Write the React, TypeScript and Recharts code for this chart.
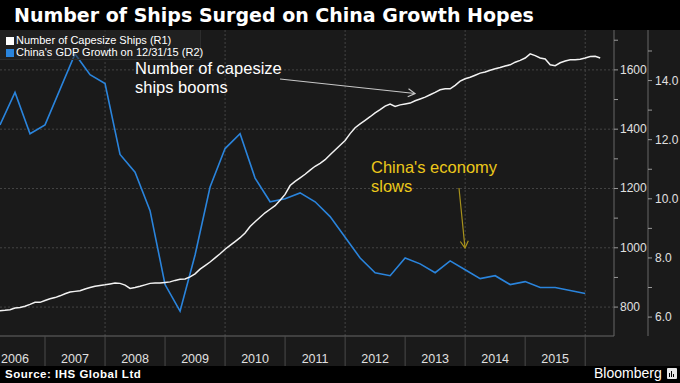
import { CartesianGrid, ComposedChart, Line, XAxis, YAxis } from "recharts";

// Number of capesize ships, month-end readings from Mar 2006
const shipStart = 2006.25;
const shipCounts = [
  788, 789, 791, 797, 799, 803, 809, 816, 816, 822, 828, 832,
  838, 845, 851, 853, 855, 861, 866, 870, 873, 875, 878, 881,
  880, 874, 863, 866, 870, 875, 880, 881, 881, 883, 885, 890,
  894, 895, 902, 912, 928, 940, 952, 966, 980, 995, 1008, 1021,
  1034, 1050, 1072, 1088, 1103, 1118, 1130, 1142, 1160, 1180, 1210, 1224,
  1236, 1248, 1262, 1275, 1285, 1297, 1314, 1330, 1346, 1362, 1385, 1405,
  1418, 1430, 1442, 1455, 1466, 1478, 1485, 1477, 1482, 1485, 1488, 1496,
  1502, 1508, 1516, 1524, 1533, 1536, 1536, 1548, 1562, 1570, 1575, 1582,
  1589, 1593, 1599, 1604, 1608, 1613, 1617, 1626, 1632, 1640, 1654, 1648,
  1640, 1637, 1617, 1614, 1624, 1630, 1634, 1634, 1636, 1640, 1645, 1646,
  1640,
];

// China GDP growth (% y/y), quarterly from 2006 Q1
const gdpStart = 2006.25;
const gdpGrowth = [
  12.5, 13.6, 12.2, 12.5,
  13.7, 14.9, 14.2, 13.9,
  11.5, 10.9, 9.6, 7.1,
  6.2, 8.1, 10.4, 11.7,
  12.2, 10.7, 9.9, 10.0,
  10.2, 9.9, 9.4, 8.7,
  8.0, 7.5, 7.4, 8.0,
  7.8, 7.5, 7.9, 7.6,
  7.3, 7.4, 7.1, 7.2,
  7.0, 7.0, 6.9, 6.8,
];

const years = [2006, 2007, 2008, 2009, 2010, 2011, 2012, 2013, 2014, 2015];
const yearBounds = [2007, 2008, 2009, 2010, 2011, 2012, 2013, 2014, 2015, 2016];
const gridYears = [2008, 2010, 2012, 2014, 2016];
const shipLabels = [800, 1000, 1200, 1400, 1600];
const shipMinor = [900, 1100, 1300, 1500, 1700];
const gdpLabels = [6, 8, 10, 12, 14];
const gdpMinor = [7, 9, 11, 13, 15];

const shipData = shipCounts.map((v, i) => ({ x: shipStart + i / 12, ships: v }));
const gdpData = gdpGrowth.map((v, i) => ({ x: gdpStart + i * 0.25, gdp: v }));

const FONT = "'Liberation Sans', Arial, sans-serif";

const YearTick = (props: any) => {
  const { x, y, payload } = props;
  const v = payload.value;
  if (Number.isInteger(v)) {
    return <line x1={x} x2={x} y1={y} y2={y + 30} stroke="#4a4a4a" />;
  }
  return (
    <text x={x} y={y + 27} textAnchor="middle" fill="#e0e0e0" fontSize={12.5} fontFamily={FONT}>
      {Math.floor(v)}
    </text>
  );
};

const makeYTick = (labels: number[], fmt: (v: number) => string) => (props: any) => {
  const { x, y, payload } = props;
  if (!labels.includes(payload.value)) return <g />;
  return (
    <text x={x} y={y + 4} textAnchor="start" fill="#e0e0e0" fontSize={12} fontFamily={FONT}>
      {fmt(payload.value)}
    </text>
  );
};

function arrow(x1: number, y1: number, x2: number, y2: number, color: string) {
  const len = Math.hypot(x2 - x1, y2 - y1);
  const bx = (x1 - x2) / len;
  const by = (y1 - y2) / len;
  const c = Math.cos(Math.PI / 6);
  const s = Math.sin(Math.PI / 6);
  const h = 8;
  const ax = x2 + h * (c * bx - s * by);
  const ay = y2 + h * (s * bx + c * by);
  const cx = x2 + h * (c * bx + s * by);
  const cy = y2 + h * (-s * bx + c * by);
  return (
    <g stroke={color} strokeWidth={1.2} fill="none">
      <line x1={x1} y1={y1} x2={x2} y2={y2} />
      <polyline points={`${ax},${ay} ${x2},${y2} ${cx},${cy}`} />
    </g>
  );
}

export default function App() {
  return (
    <div style={{ position: "relative", width: 680, height: 383, background: "#000", overflow: "hidden", fontFamily: FONT }}>
      <style>{`body{margin:0}`}</style>
      <div
        style={{
          position: "absolute", left: 14, top: 1, color: "#fff", fontFamily: "'DejaVu Sans', sans-serif",
          fontWeight: "bold", fontSize: 19, lineHeight: "28px", whiteSpace: "nowrap",
        }}
      >
        Number of Ships Surged on China Growth Hopes
      </div>

      <div style={{ position: "absolute", left: 0, top: 30, width: 680, height: 336, background: "#1a1a1a" }}>
        <ComposedChart width={680} height={336} margin={{ top: 0, right: 0, bottom: 0, left: 0 }}>
          <CartesianGrid
            xAxisId={0}
            yAxisId="r1"
            stroke="#444"
            strokeDasharray="2 2"
            horizontalValues={shipLabels}
            verticalValues={gridYears}
          />
          <XAxis
            dataKey="x"
            type="number"
            domain={[2006.25, 2016.48]}
            allowDataOverflow
            ticks={[...yearBounds, ...years.map((y) => y + 0.5)].sort((a, b) => a - b)}
            interval={0}
            height={30}
            tickSize={0}
            tickMargin={0}
            tickLine={false}
            axisLine={{ stroke: "#666" }}
            tick={YearTick}
          />
          <YAxis
            yAxisId="r1"
            orientation="right"
            type="number"
            domain={[702.5, 1734.5]}
            allowDataOverflow
            ticks={[...shipLabels, ...shipMinor].sort((a, b) => a - b)}
            interval={0}
            width={34}
            tickSize={4}
            tickMargin={2}
            axisLine={{ stroke: "#666" }}
            tickLine={{ stroke: "#999" }}
            tick={makeYTick(shipLabels, (v) => String(v))}
          />
          <YAxis
            yAxisId="r2"
            orientation="right"
            type="number"
            domain={[5.36, 15.71]}
            allowDataOverflow
            ticks={[...gdpLabels, ...gdpMinor].sort((a, b) => a - b)}
            interval={0}
            width={32}
            tickSize={4}
            tickMargin={3}
            axisLine={{ stroke: "#666" }}
            tickLine={{ stroke: "#999" }}
            tick={makeYTick(gdpLabels, (v) => v.toFixed(1))}
          />
          <Line
            yAxisId="r2"
            data={gdpData}
            dataKey="gdp"
            stroke="#2a84dc"
            strokeWidth={1.6}
            dot={false}
            isAnimationActive={false}
          />
          <Line
            yAxisId="r1"
            data={shipData}
            dataKey="ships"
            stroke="#f2f2f2"
            strokeWidth={1.5}
            dot={false}
            isAnimationActive={false}
          />
        </ComposedChart>
      </div>

      {/* legend */}
      <div
        style={{
          position: "absolute", left: 0, top: 30, width: 200, height: 29,
          background: "rgba(38,38,38,0.55)", borderRight: "1px solid #2c2c2c", borderBottom: "1px solid #2c2c2c",
          color: "#fff", fontSize: 11, lineHeight: "11px", whiteSpace: "nowrap",
        }}
      >
        <div style={{ position: "absolute", left: 6, top: 5, display: "flex", alignItems: "center" }}>
          <span style={{ width: 8, height: 8, background: "#fff", marginRight: 2 }} />
          Number of Capesize Ships (R1)
        </div>
        <div style={{ position: "absolute", left: 6, top: 17, display: "flex", alignItems: "center" }}>
          <span style={{ width: 8, height: 8, background: "#2a84dc", marginRight: 2 }} />
          China's GDP Growth on 12/31/15 (R2)
        </div>
      </div>

      {/* annotations */}
      <div style={{ position: "absolute", left: 135, top: 59, color: "#fff", fontSize: 16.5, lineHeight: "18.5px" }}>
        Number of capesize
        <br />
        ships booms
      </div>
      <div style={{ position: "absolute", left: 371, top: 158, color: "#ecc81a", fontSize: 16.5, lineHeight: "19px" }}>
        China's economy
        <br />
        slows
      </div>
      <svg width={680} height={383} style={{ position: "absolute", left: 0, top: 0, pointerEvents: "none" }}>
        {arrow(280, 79, 415, 93.5, "#c8c8c8")}
        {arrow(459, 188, 465, 248, "#a8921c")}
      </svg>

      {/* footer */}
      <div
        style={{
          position: "absolute", left: 5, top: 367, color: "#fff", fontSize: 11.5, fontWeight: "bold",
          letterSpacing: 0.5, lineHeight: "14px", whiteSpace: "nowrap",
        }}
      >
        Source: IHS Global Ltd
      </div>
      <div style={{ position: "absolute", left: 594, top: 365, color: "#fff", fontSize: 14, lineHeight: "17px" }}>
        Bloomberg
      </div>
      <div style={{ position: "absolute", left: 667, top: 368, width: 10, height: 11, background: "#e8e8e8", borderRadius: 1 }}>
        <div style={{ position: "absolute", left: 2, top: 5, width: 1, height: 4, background: "#000" }} />
        <div style={{ position: "absolute", left: 4, top: 3, width: 1, height: 6, background: "#000" }} />
        <div style={{ position: "absolute", left: 6, top: 6, width: 1, height: 3, background: "#000" }} />
      </div>
    </div>
  );
}
